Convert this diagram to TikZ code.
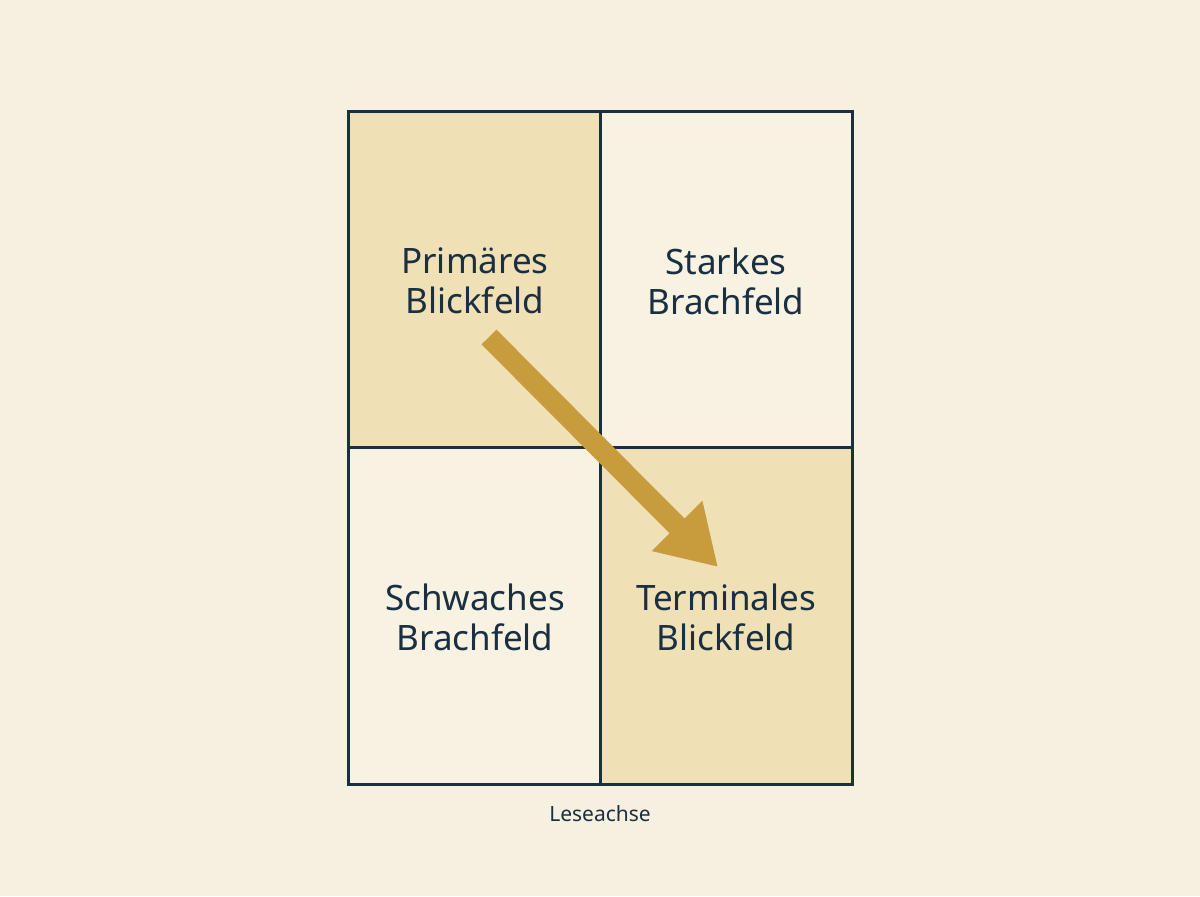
\documentclass[tikz,border=0pt]{standalone}
\usepackage{fontspec}
\setmainfont{Noto Sans}
\usetikzlibrary{arrows.meta}
\definecolor{bg}{HTML}{F6F0E1}
\definecolor{hot}{HTML}{EFE0B5}
\definecolor{cool}{HTML}{F8F2E3}
\definecolor{ink}{HTML}{1A2F40}
\definecolor{gold}{HTML}{C89B3C}
\begin{document}
\begin{tikzpicture}[x=0.5pt,y=-0.5pt,
  cell/.style={draw=ink,line width=1.5pt},
  lbl/.style={text=ink,font=\fontsize{17.5}{20}\selectfont,align=center},
  axis/.style={text=ink,font=\fontsize{10.5}{12}\selectfont}]
\fill[bg] (0,0) rectangle (1200,896);
\useasboundingbox (0,0) rectangle (1200,896);
\fill[hot] (348,111) rectangle (600,447);
\fill[cool] (600,111) rectangle (852,447);
\fill[cool] (348,447) rectangle (600,784);
\fill[hot] (600,447) rectangle (852,784);
\draw[cell] (348,111) rectangle (852,784);
\draw[cell] (600,111) -- (600,784);
\draw[cell] (348,447) -- (852,447);
\node[lbl] (p) at (475,281) {Primäres\\Blickfeld};
\node[lbl] (s) at (726,281) {Starkes\\Brachfeld};
\node[lbl] (w) at (475,617) {Schwaches\\Brachfeld};
\node[lbl] (t) at (726,617) {Terminales\\Blickfeld};
\node[axis] (l) at (600,814) {Leseachse};
\coordinate (a0) at (489,337);
\coordinate (a1) at (718,567);
\draw[gold,line width=10.5pt,-{Triangle[width=33.5pt,length=29pt]}] (a0) -- (a1);
\end{tikzpicture}
\end{document}
